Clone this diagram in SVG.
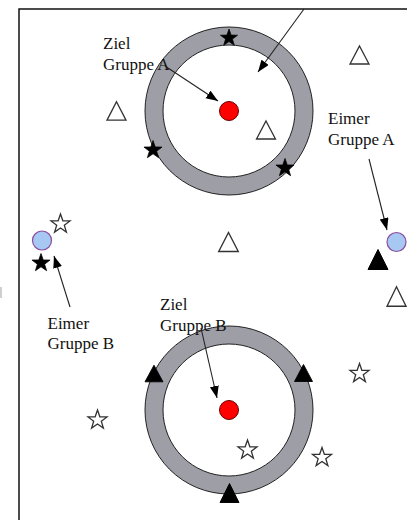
<svg xmlns="http://www.w3.org/2000/svg" width="407" height="520" viewBox="0 0 407 520">
  <defs>
    <style>
      .frame { fill: none; stroke: #111; stroke-width: 1.5; }
      .ring-outer { fill: #9d9ea6; stroke: #222; stroke-width: 1; }
      .ring-inner { fill: #fff; stroke: #222; stroke-width: 1; }
      .target { fill: #ff0000; stroke: #600; stroke-width: 1; }
      .bucket { fill: #a6c8f2; stroke: #8a4f9e; stroke-width: 1.2; }
      .tri-open { fill: #fff; stroke: #333; stroke-width: 1.4; }
      .tri-solid { fill: #000; stroke: #000; stroke-width: 1; }
      .star-open { fill: #fff; stroke: #333; stroke-width: 1.3; }
      .star-solid { fill: #000; stroke: #000; stroke-width: 0.8; }
      .conn { fill: none; stroke: #222; stroke-width: 1.1; marker-end: url(#arrow); }
      .label { font-family: "Liberation Serif", "Times New Roman", serif; font-size: 17px; fill: #111; }
    </style>
    <marker id="arrow" markerUnits="userSpaceOnUse" markerWidth="13" markerHeight="10" refX="12" refY="4.5" orient="auto">
      <path d="M0,0 L12,4.5 L0,9 Z" fill="#000"/>
    </marker>
    <path id="star" d="M0,-10 L2.351,-3.236 L9.511,-3.090 L3.804,1.236 L5.878,8.090 L0,4 L-5.878,8.090 L-3.804,1.236 L-9.511,-3.090 L-2.351,-3.236 Z"/>
    <path id="tri" d="M0,-10 L10,10 L-10,10 Z"/>
  </defs>

  <rect width="407" height="520" fill="#fff"/>
  <!-- page frame -->
  <path class="frame" d="M19,520 L19,9 L407,9"/>
  <rect x="0" y="287" width="2" height="11" fill="#cfcfcf"/>

  <!-- goal zone A -->
  <g id="zone-a">
    <circle class="ring-outer" cx="229" cy="111" r="84"/>
    <circle class="ring-inner" cx="229" cy="111" r="66"/>
    <circle class="target" cx="229" cy="111" r="9.5"/>
    <use href="#star" class="star-solid" transform="translate(229,38) scale(0.9)"/>
    <use href="#star" class="star-solid" transform="translate(153,150) scale(0.95)"/>
    <use href="#star" class="star-solid" transform="translate(285,168) scale(0.95)"/>
    <use href="#tri" class="tri-open" transform="translate(266,130) scale(0.95,0.9)"/>
  </g>

  <!-- goal zone B -->
  <g id="zone-b">
    <circle class="ring-outer" cx="229" cy="410" r="84"/>
    <circle class="ring-inner" cx="229" cy="410" r="66"/>
    <circle class="target" cx="229" cy="410" r="9.5"/>
    <use href="#tri" class="tri-solid" transform="translate(154,373.5) scale(0.9,0.83)"/>
    <use href="#tri" class="tri-solid" transform="translate(303.5,373) scale(0.9,0.85)"/>
    <use href="#tri" class="tri-solid" transform="translate(229.5,493) scale(0.95,0.95)"/>
    <use href="#star" class="star-open" transform="translate(247.5,450)"/>
  </g>

  <!-- bucket A -->
  <g id="bucket-a">
    <circle class="bucket" cx="396.5" cy="242" r="9.5"/>
    <use href="#tri" class="tri-solid" transform="translate(378,259.5)"/>
  </g>

  <!-- bucket B -->
  <g id="bucket-b">
    <circle class="bucket" cx="42" cy="240.5" r="9.5"/>
    <use href="#star" class="star-solid" transform="translate(41,263) scale(0.95)"/>
    <use href="#star" class="star-open" transform="translate(60.5,224)"/>
  </g>

  <!-- loose pieces -->
  <g id="pieces">
    <use href="#tri" class="tri-open" transform="translate(116.5,111) scale(0.95,0.92)"/>
    <use href="#tri" class="tri-open" transform="translate(359.5,55) scale(0.95,0.9)"/>
    <use href="#tri" class="tri-open" transform="translate(228.5,242) scale(0.98,0.95)"/>
    <use href="#tri" class="tri-open" transform="translate(396.5,296.5) scale(0.95,0.98)"/>
    <use href="#star" class="star-open" transform="translate(359.5,373.5)"/>
    <use href="#star" class="star-open" transform="translate(97.5,420)"/>
    <use href="#star" class="star-open" transform="translate(322,457.5)"/>
  </g>

  <!-- labels -->
  <g id="label-ziel-a">
    <text class="label" x="103" y="49">Ziel</text>
    <text class="label" x="103" y="70">Gruppe A</text>
  </g>
  <g id="label-eimer-a">
    <text class="label" x="328" y="124">Eimer</text>
    <text class="label" x="328" y="144.5">Gruppe A</text>
  </g>
  <g id="label-eimer-b">
    <text class="label" x="47.5" y="328.5">Eimer</text>
    <text class="label" x="47.5" y="349">Gruppe B</text>
  </g>
  <g id="label-ziel-b">
    <text class="label" x="160" y="310">Ziel</text>
    <text class="label" x="160" y="330.5">Gruppe B</text>
  </g>

  <!-- connectors -->
  <g id="connectors">
    <line class="conn" x1="304" y1="9" x2="258" y2="72"/>
    <line class="conn" x1="165" y1="66" x2="218" y2="101"/>
    <line class="conn" x1="369" y1="159" x2="387" y2="230"/>
    <line class="conn" x1="70" y1="307" x2="54" y2="256"/>
    <line class="conn" x1="201" y1="328" x2="217" y2="398"/>
  </g>
</svg>
